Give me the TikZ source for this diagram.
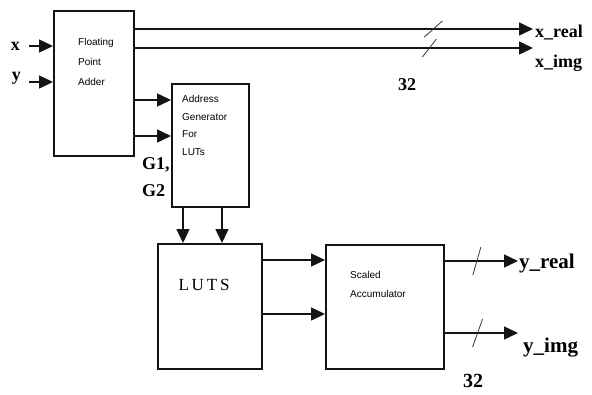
\documentclass[tikz,border=0pt]{standalone}
\usepackage{fontspec}
\setmainfont{Liberation Serif}
\newfontfamily\blocksans{Liberation Sans}
\usetikzlibrary{arrows.meta,calc}
\definecolor{LN}{HTML}{141414}

\begin{document}
\begin{tikzpicture}[x=1pt,y=-1pt,
    blk/.style={draw=LN, line width=1.5pt, anchor=north west, inner sep=0pt},
    blktext/.style={anchor=north west, align=left, inner sep=0pt,
                    font=\blocksans\fontsize{10}{20}\selectfont},
    sig/.style={draw=LN, line width=1.5pt, -{Triangle[length=14pt,width=13pt]}},
    bus/.style={draw=LN!85, line width=0.8pt},
    lbl/.style={inner sep=0pt, font=\fontsize{18}{18}\selectfont\bfseries},
    biglbl/.style={lbl, font=\fontsize{21}{21}\selectfont\bfseries}]
  \useasboundingbox (0,0) rectangle (592,394);
  % blocks
  \node[blk, minimum width=80pt, minimum height=145pt] (fpa) at (53,10) {};
  \node[blk, minimum width=77pt, minimum height=123pt] (agen) at (171,83) {};
  \node[blk, minimum width=104pt, minimum height=125pt] (luts) at (157,243) {};
  \node[blk, minimum width=118pt, minimum height=124pt] (acc) at (325,244) {};
  \node[blktext] (fpatext) at (78,38.5) {Floating\\Point\\Adder};
  \node[blktext, font=\blocksans\fontsize{10}{17.5}\selectfont] (agentext) at (182,95.5) {Address\\Generator\\For\\LUTs};
  \node[blktext, font=\blocksans\fontsize{10}{19}\selectfont] (acctext) at (350,271.5) {Scaled\\Accumulator};
  \node[font=\fontsize{17}{17}\selectfont, inner sep=0pt] (lutstext) at (204,285) {L\,U\,T\,S};
  % inputs
  \coordinate (xs) at (29,46);
  \coordinate (ys) at (29,82);
  \node[lbl, anchor=east] (xin) at (20,46) {x};
  \node[lbl, anchor=base east] (yin) at (21,80) {y};
  \draw[sig] (xs) -- (xs -| fpa.west);
  \draw[sig] (ys) -- (ys -| fpa.west);
  % adder outputs
  \coordinate (xre) at (533,29);
  \coordinate (xim) at (533,48);
  \draw[sig] (fpa.east |- xre) -- (xre);
  \draw[sig] (fpa.east |- xim) -- (xim);
  \draw[bus] ($(fpa.east |- xre)!0.75!(xre)$) +(-9,8) -- +(9,-8);
  \draw[bus] ($(fpa.east |- xim)!0.74!(xim)$) +(-7,9) -- +(7,-9);
  \node[lbl, anchor=base west] (xrelbl) at (535,37) {x\_real};
  \node[lbl, anchor=base west] (ximlbl) at (535,67) {x\_img};
  \node[lbl, anchor=base west] (xbits) at (398,90) {32};
  % into address generator
  \coordinate (g1) at ($(agen.north west)+(0,17)$);
  \coordinate (g2) at ($(agen.north west)+(0,53)$);
  \draw[sig] (g1 -| fpa.east) -- (g1);
  \draw[sig] (g2 -| fpa.east) -- (g2);
  \node[lbl, anchor=base west] (g1lbl) at (142,169) {G1,};
  \node[lbl, anchor=base west] (g2lbl) at (142,196) {G2};
  % into LUTS
  \coordinate (l1) at ($(luts.north west)+(26,0)$);
  \coordinate (l2) at ($(luts.north west)+(65,0)$);
  \draw[sig] (l1 |- agen.south) -- (l1);
  \draw[sig] (l2 |- agen.south) -- (l2);
  % into accumulator
  \coordinate (a1) at ($(acc.north west)+(0,16)$);
  \coordinate (a2) at ($(acc.north west)+(0,70)$);
  \draw[sig] (a1 -| luts.east) -- (a1);
  \draw[sig] (a2 -| luts.east) -- (a2);
  % accumulator outputs
  \coordinate (yre) at (518,261);
  \coordinate (yim) at (518,333);
  \draw[sig] (acc.east |- yre) -- (yre);
  \draw[sig] (acc.east |- yim) -- (yim);
  \draw[bus] ($(acc.east |- yre)!0.44!(yre)$) +(-4,14) -- +(4,-14);
  \draw[bus] ($(acc.east |- yim)!0.45!(yim)$) +(-5,14) -- +(5,-14);
  \node[biglbl, anchor=base west] (yrelbl) at (519,268) {y\_real};
  \node[biglbl, anchor=base west] (yimlbl) at (523,352) {y\_img};
  \node[lbl, font=\fontsize{20}{20}\selectfont\bfseries, anchor=base west] (ybits) at (463,387) {32};
\end{tikzpicture}
\end{document}
